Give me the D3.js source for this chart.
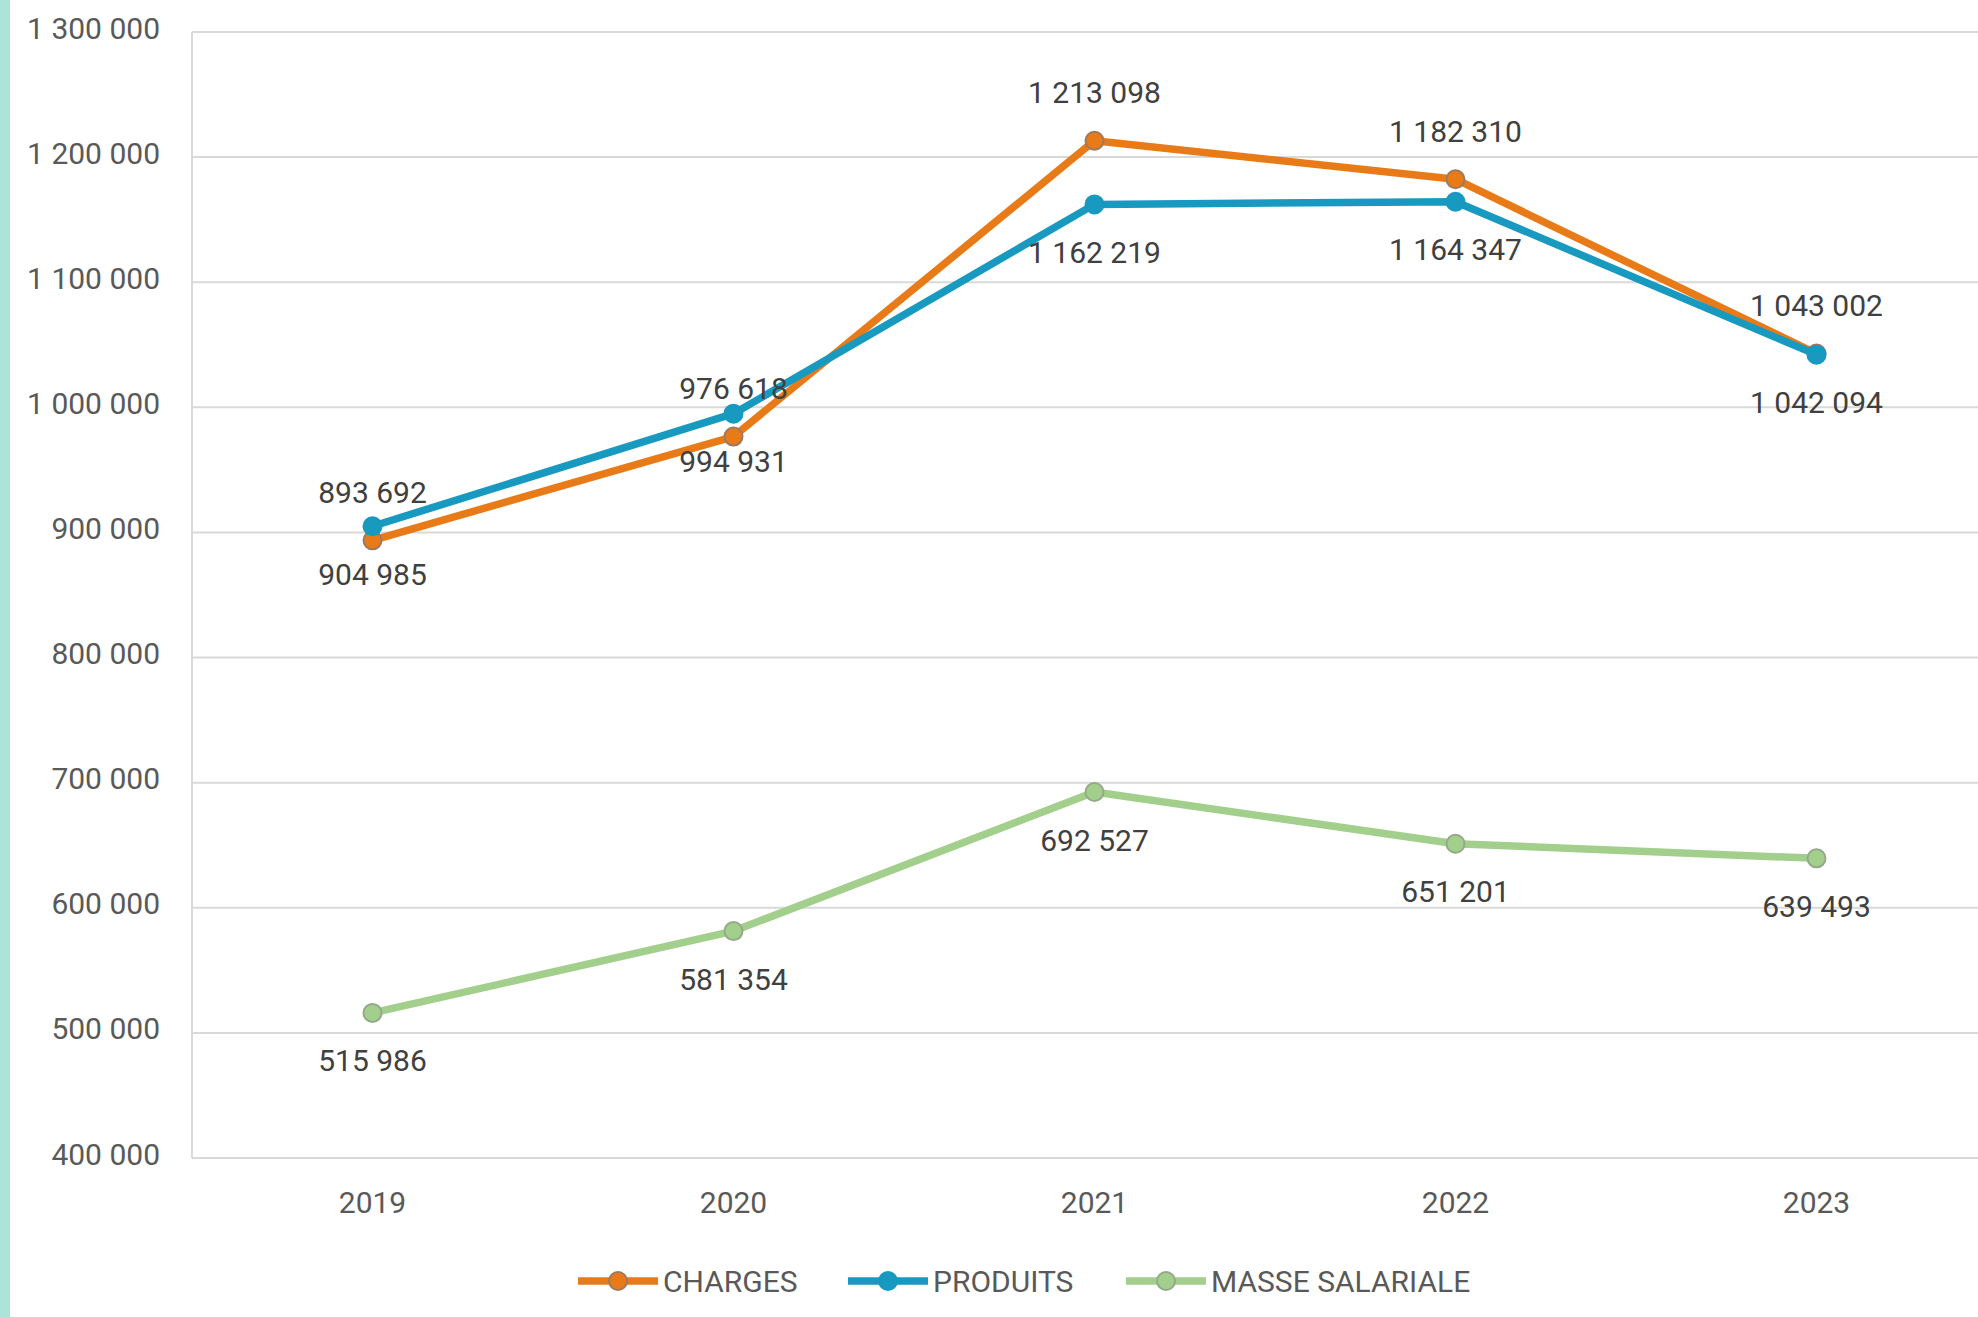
<!DOCTYPE html>
<html>
<head>
<meta charset="utf-8">
<script src="https://cdn.jsdelivr.net/npm/d3@7"></script>
<style>
  body { margin: 0; background: #fff; }
  svg { display: block; font-family: Roboto, "Liberation Sans", sans-serif; }
</style>
</head>
<body>
<svg id="chart" width="1978" height="1317"></svg>
<script>
const years = ["2019", "2020", "2021", "2022", "2023"];
const charges = [893692, 976618, 1213098, 1182310, 1043002];
const produits = [904985, 994931, 1162219, 1164347, 1042094];
const masse = [515986, 581354, 692527, 651201, 639493];
const yTicks = [400000, 500000, 600000, 700000, 800000, 900000, 1000000, 1100000, 1200000, 1300000];

const series = [
  {name: "CHARGES", values: charges, color: "#e87b17", marker: "#e87b17", stroke: "#9c7a62", labelPos: "above"},
  {name: "PRODUITS", values: produits, color: "#1899bf", marker: "#1899bf", stroke: "#1899bf", labelPos: "below"},
  {name: "MASSE SALARIALE", values: masse, color: "#a3cf8c", marker: "#a3cf8c", stroke: "#95a98a", labelPos: "below"}
];

const W = 1978, H = 1317;
const plotLeft = 192, plotTop = 32, plotBottom = 1158;
const svg = d3.select("#chart");

// left teal strip
svg.append("rect").attr("x", 0).attr("y", 0).attr("width", 10).attr("height", H).attr("fill", "#aee3da");

const fmt = v => d3.format(",")(v).replace(/,/g, " ");

const x = d3.scalePoint().domain(years).range([plotLeft, plotLeft + 5 * 361]).padding(0.5);
const y = d3.scaleLinear().domain([400000, 1300000]).range([plotBottom, plotTop]);

// grid
svg.append("g").selectAll("line").data(yTicks).join("line")
    .attr("x1", plotLeft).attr("x2", W)
    .attr("y1", d => y(d)).attr("y2", d => y(d))
    .attr("stroke", "#d9d9d9").attr("stroke-width", 2);
svg.append("line").attr("x1", plotLeft).attr("x2", plotLeft).attr("y1", plotTop).attr("y2", plotBottom)
    .attr("stroke", "#d9d9d9").attr("stroke-width", 2);

// y labels
svg.append("g").selectAll("text").data(yTicks).join("text")
    .attr("x", 160).attr("y", d => y(d) - 4).attr("dy", "0.35em")
    .attr("text-anchor", "end").attr("font-size", 30).attr("fill", "#595959")
    .text(fmt);

// x labels
svg.append("g").selectAll("text").data(years).join("text")
    .attr("x", d => x(d)).attr("y", 1202).attr("dy", "0.35em")
    .attr("text-anchor", "middle").attr("font-size", 30).attr("fill", "#595959")
    .text(d => d);

const line = d3.line().x((d, i) => x(years[i])).y(d => y(d));

// masse first, then charges, then produits on top
const order = [series[2], series[0], series[1]];
order.forEach(s => {
  svg.append("path").datum(s.values)
      .attr("d", line).attr("fill", "none")
      .attr("stroke", s.color).attr("stroke-width", 7.5)
      .attr("stroke-linejoin", "round");
  svg.append("g").selectAll("circle").data(s.values).join("circle")
      .attr("cx", (d, i) => x(years[i])).attr("cy", d => y(d))
      .attr("r", 9).attr("fill", s.marker)
      .attr("stroke", s.stroke).attr("stroke-width", 2);
});

// data labels
series.forEach(s => {
  svg.append("g").selectAll("text").data(s.values).join("text")
      .attr("x", (d, i) => x(years[i]))
      .attr("y", d => y(d) + (s.labelPos === "above" ? -48 : 48))
      .attr("dy", "0.35em").attr("text-anchor", "middle")
      .attr("font-size", 30).attr("fill", "#404040")
      .text(fmt);
});

// legend
const legendX = [578, 848, 1126];
series.forEach((s, i) => {
  const g = svg.append("g").attr("transform", `translate(${legendX[i]},1281)`);
  g.append("line").attr("x1", 0).attr("x2", 80).attr("y1", 0).attr("y2", 0)
      .attr("stroke", s.color).attr("stroke-width", 7.5);
  g.append("circle").attr("cx", 40).attr("cy", 0).attr("r", 9)
      .attr("fill", s.marker).attr("stroke", s.stroke).attr("stroke-width", 2);
  g.append("text").attr("x", 85).attr("y", 0).attr("dy", "0.35em")
      .attr("font-size", 30).attr("fill", "#595959").text(s.name);
});
</script>
</body>
</html>
